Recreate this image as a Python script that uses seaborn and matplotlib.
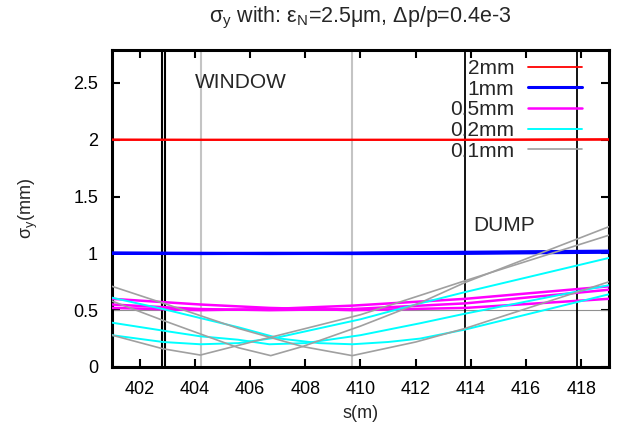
import matplotlib
matplotlib.use("Agg")
import matplotlib.pyplot as plt
import seaborn as sns
import pandas as pd

# ---------------- data ----------------
groups = ["2mm", "1mm", "0.5mm", "0.2mm", "0.1mm"]
colors = ["#ff0000", "#0000ff", "#ff00ff", "#00ffff", "#a0a0a0"]
widths = [1.3, 2.2, 1.8, 1.4, 1.2]

s_flat = [401, 404.2, 406.7, 409.7, 413.8, 419]
red_a = [2.0, 2.0, 2.0, 2.0, 2.0, 2.005]
red_b = [2.0, 2.0, 2.0, 2.0, 2.0, 2.003]
red_c = [2.002, 2.0, 2.0, 2.0, 2.0, 2.0]

blue_a = [1.0, 0.998, 1.0, 1.002, 1.01, 1.02]
blue_b = [1.0, 1.0, 0.998, 1.0, 1.005, 1.015]
blue_c = [1.003, 1.0, 1.0, 0.998, 1.0, 1.01]

mag_a = [0.52, 0.50, 0.51, 0.54, 0.60, 0.71]
mag_b = [0.55, 0.51, 0.50, 0.51, 0.56, 0.68]
mag_c = [0.60, 0.55, 0.52, 0.50, 0.52, 0.60]

cyan_a_s = [401, 402.85, 404.2, 405.57, 407, 410, 412.16, 413.8, 419]
cyan_a = [0.28, 0.22, 0.20, 0.21, 0.26, 0.42, 0.56, 0.66, 0.96]
cyan_b_s = [401, 402.85, 404.2, 405.57, 406.7, 408, 410, 412.16, 413.8, 419]
cyan_b = [0.39, 0.32, 0.27, 0.24, 0.20, 0.21, 0.28, 0.385, 0.47, 0.72]
cyan_c_s = [401, 402.85, 405.57, 407.09, 408.5, 409.7, 411, 412.16, 413.8, 419]
cyan_c = [0.61, 0.51, 0.35, 0.25, 0.21, 0.20, 0.22, 0.25, 0.33, 0.64]

gray_a_s = [401, 402.85, 404.2, 405.57, 410, 412.16, 413.8, 419]
gray_a = [0.28, 0.16, 0.105, 0.19, 0.46, 0.63, 0.76, 1.16]
gray_b_s = [401, 402.85, 405.57, 406.75, 407.9, 410, 412.16, 413.8, 419]
gray_b = [0.58, 0.41, 0.17, 0.10, 0.18, 0.36, 0.565, 0.745, 1.235]
gray_c_s = [401, 403, 405.57, 407.9, 409.7, 412, 413.8, 419]
gray_c = [0.71, 0.55, 0.34, 0.18, 0.10, 0.22, 0.34, 0.75]

window_lines = [402.81, 402.93]
gray_vlines = [404.22, 409.7]
dump_lines = [413.8, 417.85]
x_ticks = [402, 404, 406, 408, 410, 412, 414, 416, 418]
y_ticks = [0, 0.5, 1, 1.5, 2, 2.5]
y_tick_labels = ["0", "0.5", "1", "1.5", "2", "2.5"]

curves = [
    ("2mm", "a", s_flat, red_a), ("2mm", "b", s_flat, red_b), ("2mm", "c", s_flat, red_c),
    ("1mm", "a", s_flat, blue_a), ("1mm", "b", s_flat, blue_b), ("1mm", "c", s_flat, blue_c),
    ("0.5mm", "a", s_flat, mag_a), ("0.5mm", "b", s_flat, mag_b), ("0.5mm", "c", s_flat, mag_c),
    ("0.2mm", "a", cyan_a_s, cyan_a), ("0.2mm", "b", cyan_b_s, cyan_b), ("0.2mm", "c", cyan_c_s, cyan_c),
    ("0.1mm", "a", gray_a_s, gray_a), ("0.1mm", "b", gray_b_s, gray_b), ("0.1mm", "c", gray_c_s, gray_c),
]
rows = []
for g, c, xs, ys in curves:
    for x, y in zip(xs, ys):
        rows.append({"group": g, "curve": g + c, "s": x, "sigma": y})
df = pd.DataFrame(rows)

# ---------------- style ----------------
sns.set_style("ticks")
plt.rcParams["font.family"] = ["Liberation Sans", "DejaVu Sans"]
plt.rcParams["mathtext.fontset"] = "custom"
plt.rcParams["mathtext.rm"] = "Liberation Sans"
plt.rcParams["mathtext.it"] = "Liberation Sans:italic"

fig = plt.figure(figsize=(6.18, 4.34), dpi=100)
ax = fig.add_axes([0.1812, 0.1544, 0.8042, 0.7304])

# reference lines
ax.axhline(0.5, color="#909090", lw=0.8, zorder=1)
for x in gray_vlines:
    ax.axvline(x, color="#c4c4c4", lw=1.5, zorder=1)
for x in window_lines:
    ax.axvline(x, color="black", lw=1.5, zorder=1)
for x in dump_lines:
    ax.axvline(x, color="black", lw=1.3, zorder=1)

for g, col, lw in zip(groups, colors, widths):
    sub = df[df["group"] == g]
    for i, (cname, cdf) in enumerate(sub.groupby("curve", sort=True)):
        sns.lineplot(data=cdf, x="s", y="sigma", ax=ax, color=col, linewidth=lw,
                     estimator=None, sort=False, label=g if i == 0 else None,
                     legend=False, zorder=3)

ax.set_xlim(401, 419)
ax.set_ylim(0, 2.79)
ax.set_xticks(x_ticks)
ax.set_xticklabels([str(t) for t in x_ticks])
ax.set_yticks(y_ticks)
ax.set_yticklabels(y_tick_labels)
ax.tick_params(direction="in", top=True, right=True, length=6, width=1.5,
               labelsize=13, colors="black")
ax.tick_params(axis="x", pad=10)
ax.tick_params(axis="y", pad=10)
for sp in ax.spines.values():
    sp.set_linewidth(2.2)
    sp.set_color("black")

ax.set_xlabel("s(m)", fontsize=13, labelpad=5)
ax.set_ylabel(r"σ$_\mathrm{y}$(mm)", fontsize=13, labelpad=24)
ax.set_title(r"σ$_\mathrm{y}$ with: ε$_\mathrm{N}$=2.5μm, Δp/p=0.4e-3", fontsize=15.5, pad=20)

ax.text(404.0, 2.5, "WINDOW", fontsize=15, ha="left", va="center")
ax.text(414.07, 1.245, "DUMP", fontsize=15, ha="left", va="center")

handles, labels = ax.get_legend_handles_labels()
leg = ax.legend(handles, labels, loc="upper right", bbox_to_anchor=(0.962, 0.998),
                frameon=False, markerfirst=False, fontsize=15, handlelength=2.6,
                handletextpad=0.65, labelspacing=0.08, borderaxespad=0.0)

fig.savefig("out.png", dpi=100)
